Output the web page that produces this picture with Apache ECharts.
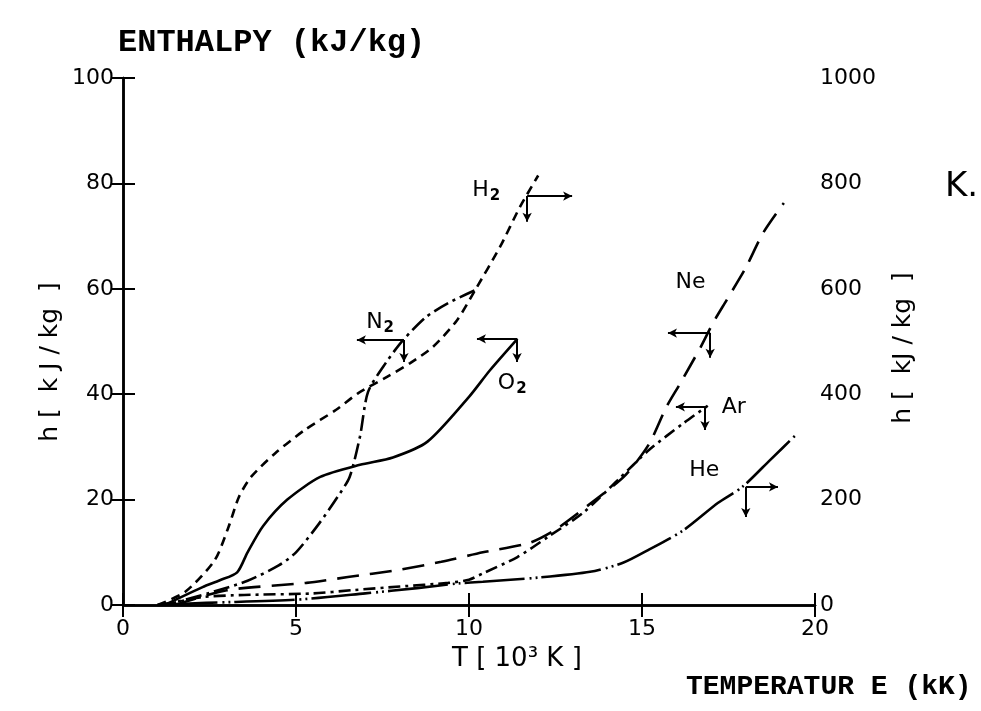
<!DOCTYPE html>
<html>
<head>
<meta charset="utf-8">
<script src="https://cdn.jsdelivr.net/npm/echarts@6/dist/echarts.min.js"></script>
<style>
html,body{margin:0;padding:0;background:#fff;}
#c{width:981px;height:711px;}
</style>
</head>
<body>
<div id="c"></div>
<script>
// ---- data (T in 10^3 K) ----
// left axis series (kJ/kg, 0-100)
const T_N2 = [1.0, 1.5, 2.5, 3.6, 4.5, 5.0, 5.65, 6.2, 6.55, 6.85, 7.08, 7.6, 8.1, 8.75, 9.4, 10.2];
const h_N2 = [0, 0.5, 2.3, 4.6, 7.5, 10, 15.3, 20.5, 24.3, 32, 40.4, 46, 50.3, 54.6, 57.3, 59.8];
const T_O2 = [1.2, 2.3, 2.8, 3.3, 3.6, 4.05, 4.75, 5.7, 6.85, 7.8, 8.8, 10.0, 10.6, 11.4];
const h_O2 = [0, 3.4, 4.7, 6.2, 10, 15, 20, 24.3, 26.6, 28, 31, 39.5, 44.5, 50.5];
const T_Ne = [1.5, 3.0, 5.3, 6.5, 7.9, 9.2, 10.4, 11.75, 12.5, 13.5, 14.5, 15.2, 15.7, 16.1, 16.7, 17.05, 17.45, 18.0, 18.5, 19.1];
const h_Ne = [0, 2.8, 4.2, 5.3, 6.6, 8.2, 10, 11.8, 14.3, 19.2, 24.5, 30.5, 37.5, 42, 49, 53.5, 57.9, 64, 70.6, 76.3];
const T_Ar = [1.2, 2.3, 3.5, 5.5, 6.6, 8.0, 9.4, 10.0, 10.4, 11.4, 12.3, 13.3, 14.3, 15.2, 16.2, 16.9];
const h_Ar = [0, 1.5, 1.9, 2.2, 2.8, 3.5, 4.2, 4.8, 6.0, 9.1, 13.0, 17.5, 23.7, 29.4, 34.5, 37.8];
// right axis series (kJ/kg, 0-1000)
const T_H2 = [1.0, 1.8, 2.65, 3.05, 3.35, 3.7, 4.4, 5.25, 6.15, 6.8, 7.63, 8.3, 8.96, 9.65, 10.2, 10.9, 11.47, 12.0];
const h_H2 = [0, 25, 85, 148, 205, 243, 288, 332, 370, 402, 433, 459, 490, 540, 600, 680, 755, 815];
const T_He = [1.0, 2.4, 5.0, 7.0, 8.5, 9.7, 10.4, 12.0, 13.5, 14.45, 15.2, 16.2, 17.2, 17.9, 18.7, 19.5];
const h_He = [0, 4, 10, 22, 32, 41, 44, 52, 63, 80, 105, 142, 194, 224, 275, 326];

// axis ticks
const xTicks = [0, 5, 10, 15, 20];
const yLeftTicks = [0, 20, 40, 60, 80, 100];
const yRightTicks = [0, 200, 400, 600, 800, 1000];

// annotation anchors: marker point [T, h], horizontal arrow end T, down arrow end h, label [T, h]
const ann = {
  H2: {pt: [11.68, 776], arrowT: 12.98, downH: 727, lab: [10.5, 787]},
  N2: {pt: [8.12, 50.3], arrowT: 6.76, downH: 46.1, lab: [7.43, 53.7]},
  O2: {pt: [11.39, 50.5], arrowT: 10.23, downH: 46.1, lab: [11.25, 42.1]},
  Ne: {pt: [16.97, 51.6], arrowT: 15.75, downH: 46.9, lab: [16.4, 61.3]},
  Ar: {pt: [16.82, 37.6], arrowT: 15.98, downH: 33.2, lab: [17.65, 37.6]},
  He: {pt: [18.0, 224], arrowT: 18.93, downH: 167, lab: [16.8, 256]}
};

function pairs(T, h) { return T.map((t, i) => [t, h[i]]); }

const labelFont = 'DejaVu Sans';
function mkAnn(key) {
  const a = ann[key];
  const sub = key[1] === '2';
  const txt = sub ? '{b|' + key[0] + '}{s|2}' : '{b|' + key + '}';
  return {
    markLine: {
      silent: true,
      symbol: ['none', 'arrow'],
      symbolSize: [7, 9],
      lineStyle: {color: '#000', width: 2, type: 'solid'},
      label: {show: false},
      data: [
        [{coord: a.pt}, {coord: [a.arrowT, a.pt[1]]}],
        [{coord: a.pt}, {coord: [a.pt[0], a.downH]}]
      ]
    },
    markPoint: {
      silent: true,
      symbol: 'circle',
      symbolSize: 1,
      itemStyle: {color: 'rgba(0,0,0,0)'},
      label: {
        show: true,
        position: 'inside',
        formatter: txt,
        rich: {
          b: {fontSize: 22, fontFamily: labelFont, color: '#000'},
          s: {fontSize: 15, fontFamily: labelFont, color: '#000', fontWeight: 'bold', padding: [12, 0, 0, 1]}
        }
      },
      data: [{coord: a.lab}]
    }
  };
}

function mkSeries(name, T, h, axis, dash) {
  return Object.assign({
    name: name,
    type: 'line',
    yAxisIndex: axis,
    xAxisIndex: 0,
    data: pairs(T, h),
    showSymbol: false,
    smooth: 0.25,
    lineStyle: {color: '#000', width: 2.6, type: dash, cap: 'butt'},
    z: 3
  }, mkAnn(name));
}

const chart = echarts.init(document.getElementById('c'), null, {renderer: 'canvas'});
const axisFont = 'DejaVu Sans';
chart.setOption({
  backgroundColor: '#fff',
  animation: false,
  grid: {left: 123, right: 166, top: 78, bottom: 106},
  xAxis: [
    {
      type: 'value', min: 0, max: 20, interval: 5, position: 'bottom',
      axisLine: {show: true, lineStyle: {color: '#000', width: 2.5}},
      axisTick: {show: true, inside: true, length: 12, lineStyle: {color: '#000', width: 2}},
      axisLabel: {color: '#000', fontSize: 22, fontFamily: axisFont, margin: 13,
        formatter: v => xTicks.includes(v) ? String(v) : ''},
      splitLine: {show: false}
    },
    {
      type: 'value', min: 0, max: 20, interval: 5, position: 'top',
      axisLine: {show: true, lineStyle: {color: '#000', width: 2.5}},
      axisTick: {show: true, inside: true, length: 12, lineStyle: {color: '#000', width: 2}},
      axisLabel: {show: false},
      splitLine: {show: false}
    }
  ],
  yAxis: [
    {
      type: 'value', min: 0, max: 100, interval: 20, position: 'left',
      axisLine: {show: true, lineStyle: {color: '#000', width: 2.5}},
      axisTick: {show: true, inside: true, length: 12, lineStyle: {color: '#000', width: 2}},
      axisLabel: {color: '#000', fontSize: 22, fontFamily: axisFont, margin: 9,
        formatter: v => yLeftTicks.includes(v) ? String(v) : ''},
      splitLine: {show: false}
    },
    {
      type: 'value', min: 0, max: 1000, interval: 200, position: 'right',
      axisLine: {show: true, lineStyle: {color: '#000', width: 2.5}},
      axisTick: {show: true, inside: true, length: 12, lineStyle: {color: '#000', width: 2}},
      axisLabel: {color: '#000', fontSize: 22, fontFamily: axisFont, margin: 5,
        formatter: v => yRightTicks.includes(v) ? String(v) : ''},
      splitLine: {show: false}
    }
  ],
  series: [
    mkSeries('H2', T_H2, h_H2, 1, [9, 6]),
    mkSeries('N2', T_N2, h_N2, 0, [16, 5, 3, 5]),
    mkSeries('O2', T_O2, h_O2, 0, 'solid'),
    mkSeries('Ne', T_Ne, h_Ne, 0, [22, 11]),
    mkSeries('Ar', T_Ar, h_Ar, 0, [12, 5, 3, 5]),
    mkSeries('He', T_He, h_He, 1, [60, 5, 2, 4, 2, 4])
  ],
  graphic: [
    {type: 'text', left: 118, top: 27, style: {text: 'ENTHALPY (kJ/kg)', fill: '#000',
      font: 'bold 32px "Liberation Mono"'}},
    {type: 'text', left: 686, top: 673, style: {text: 'TEMPERATUR E (kK)', fill: '#000',
      font: 'bold 28px "Liberation Mono"'}},
    {type: 'text', left: 452, top: 646, style: {text: 'T [ 10³ K ]', fill: '#000',
      font: '26px "DejaVu Sans"'}},
    {type: 'text', left: 945, top: 170, style: {text: 'K.', fill: '#000',
      font: '34px "DejaVu Sans"'}},
    {type: 'text', x: 50, y: 362, rotation: Math.PI / 2, style: {text: 'h [  k J / kg  ]', fill: '#000',
      font: '25px "DejaVu Sans"', align: 'center', verticalAlign: 'middle'}},
    {type: 'text', x: 903, y: 348, rotation: Math.PI / 2, style: {text: 'h [  kJ / kg  ]', fill: '#000',
      font: '25px "DejaVu Sans"', align: 'center', verticalAlign: 'middle'}}
  ]
});
</script>
</body>
</html>
